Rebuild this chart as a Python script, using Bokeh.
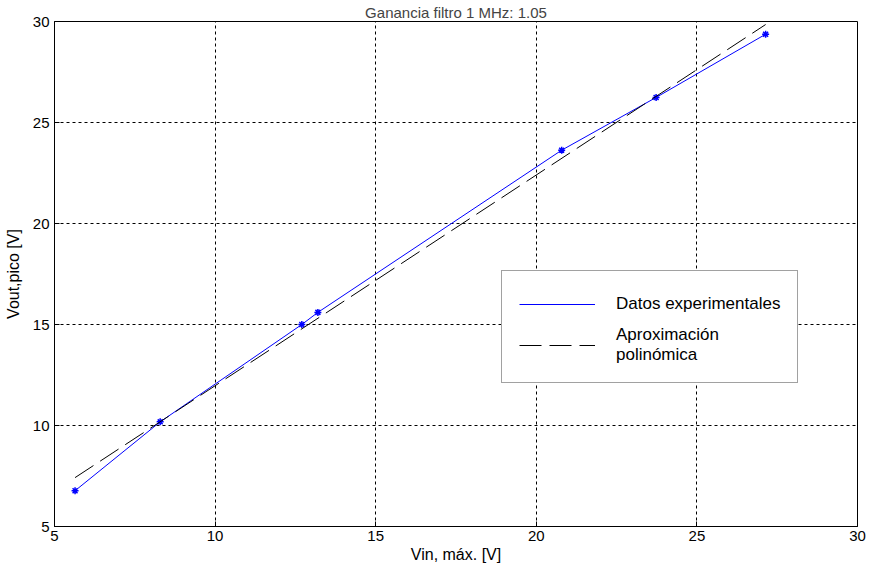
from bokeh.plotting import figure
from bokeh.models import Range1d, Legend, LegendItem, FixedTicker
from bokeh.embed import file_html
from bokeh.resources import INLINE

# data
vin = [5.64, 8.29, 12.7, 13.2, 20.79, 23.73, 27.14]
vout = [6.77, 10.18, 15.0, 15.6, 23.63, 26.24, 29.37]
fit_x = [5.64, 27.14]
fit_y = [7.42, 29.85]
x_ticks = [5, 10, 15, 20, 25, 30]
y_ticks = [5, 10, 15, 20, 25, 30]

FONT = "Liberation Sans"

p = figure(width=872, height=569, output_backend="svg", toolbar_location=None,
           x_range=Range1d(5, 30), y_range=Range1d(5, 30),
           min_border_left=54, min_border_right=15, min_border_top=21, min_border_bottom=43,
           title="Ganancia filtro 1 MHz: 1.05")
p.title.align = "center"
p.title.text_font = FONT
p.title.text_font_size = "15px"
p.title.text_font_style = "normal"
p.title.standoff = 2

p.outline_line_color = "black"
p.outline_line_width = 1
p.background_fill_color = "white"
p.border_fill_color = "white"

for ax in (p.xaxis[0], p.yaxis[0]):
    ax.major_tick_in = 5
    ax.major_tick_out = 0
    ax.minor_tick_line_color = None
    ax.axis_line_color = "black"
    ax.major_tick_line_color = "black"
    ax.major_label_text_font = FONT
    ax.major_label_text_font_size = "15px"
    ax.major_label_text_color = "black"
    ax.axis_label_text_font = FONT
    ax.axis_label_text_font_size = "16px"
    ax.axis_label_text_font_style = "normal"
    ax.axis_label_text_color = "black"

p.xaxis.ticker = FixedTicker(ticks=x_ticks)
p.yaxis.ticker = FixedTicker(ticks=y_ticks)
p.xaxis.axis_label = "Vin, máx. [V]"
p.yaxis.axis_label = "Vout,pico [V]"
p.xaxis.major_label_standoff = 4
p.xaxis.axis_label_standoff = 2
p.yaxis.major_label_standoff = 5
p.yaxis.axis_label_standoff = 8

p.xgrid.ticker = FixedTicker(ticks=x_ticks)
p.ygrid.ticker = FixedTicker(ticks=y_ticks)
for g in (p.xgrid[0], p.ygrid[0]):
    g.grid_line_color = "black"
    g.grid_line_dash = "3 3"
    g.grid_line_width = 1

r_data = p.line(vin, vout, line_color="#0000ff", line_width=1)
p.scatter(vin, vout, marker="asterisk", size=7, line_color="#0000ff", line_width=1.5)
r_fit = p.line(fit_x, fit_y, line_color="black", line_width=1, line_dash="22 8")

legend = Legend(items=[LegendItem(label="Datos experimentales", renderers=[r_data]),
                       LegendItem(label="Aproximación\npolinómica", renderers=[r_fit])],
                location=(447, 143))
legend.label_text_font = FONT
legend.label_text_font_size = "17px"
legend.label_text_color = "black"
legend.glyph_width = 76
legend.glyph_height = 32
legend.label_height = 32
legend.label_standoff = 21
legend.padding = 17
legend.spacing = 5
legend.margin = 0
legend.border_line_color = "#444444"
legend.border_line_width = 1
legend.background_fill_color = "white"
legend.background_fill_alpha = 1
p.add_layout(legend)

open("out.html", "w").write(file_html(p, INLINE))
